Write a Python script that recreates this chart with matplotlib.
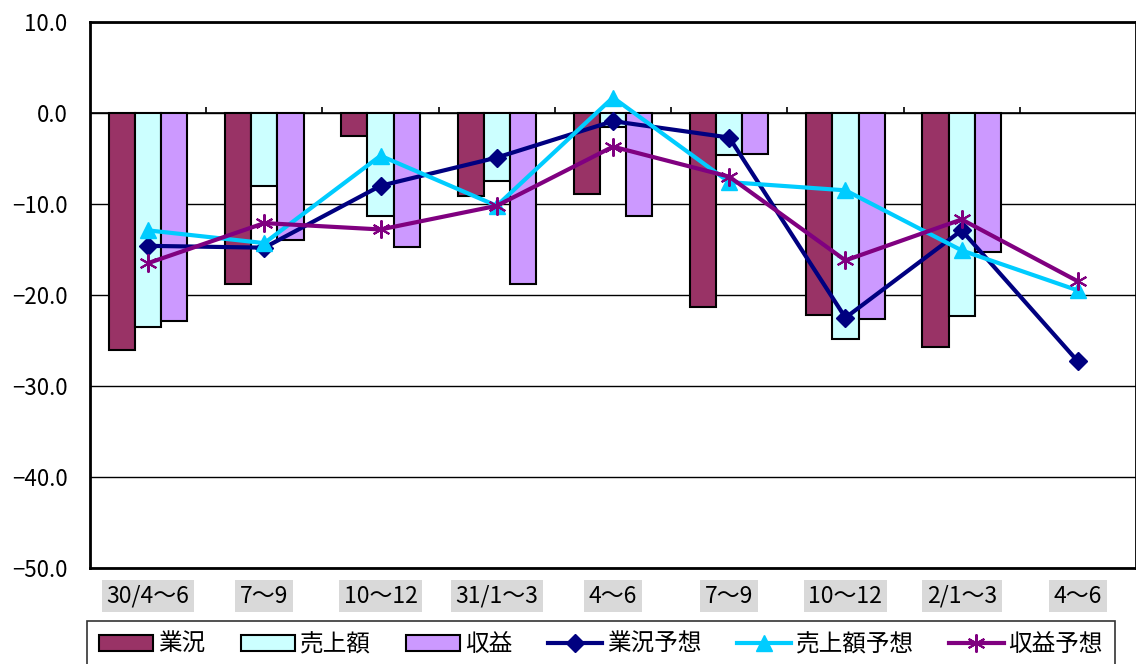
import numpy as np
import matplotlib.pyplot as plt

plt.rcParams['font.family'] = ['Noto Sans CJK JP', 'DejaVu Sans']

# data
categories = ['30/4～6', '7～9', '10～12', '31/1～3', '4～6', '7～9', '10～12', '2/1～3', '4～6']
gyokyo = [-26.0, -18.8, -2.5, -9.1, -8.9, -21.3, -22.2, -25.7]
uriage = [-23.5, -8.0, -11.3, -7.5, -1.5, -4.6, -24.8, -22.3]
shueki = [-22.9, -14.0, -14.7, -18.8, -11.3, -4.5, -22.6, -15.3]
gyokyo_yoso = [-14.6, -14.8, -8.0, -4.9, -0.9, -2.7, -22.5, -12.9, -27.3]
uriage_yoso = [-12.9, -14.3, -4.7, -10.2, 1.7, -7.6, -8.5, -15.1, -19.5]
shueki_yoso = [-16.5, -12.1, -12.8, -10.2, -3.7, -7.0, -16.2, -11.7, -18.5]

fig = plt.figure(figsize=(11.36, 6.64), dpi=100)
ax = fig.add_axes([0.0792, 0.1446, 0.9208, 0.8223])

x = np.arange(len(categories))
xb = np.arange(len(gyokyo))
w = 0.225

b1 = ax.bar(xb - w, gyokyo, w, color='#993366', edgecolor='black', linewidth=1.5, label='業況', zorder=2)
b2 = ax.bar(xb, uriage, w, color='#CCFFFF', edgecolor='black', linewidth=1.5, label='売上額', zorder=2)
b3 = ax.bar(xb + w, shueki, w, color='#CC99FF', edgecolor='black', linewidth=1.5, label='収益', zorder=2)

l1, = ax.plot(x, gyokyo_yoso, color='#000080', lw=3, marker='D', ms=9, label='業況予想', zorder=4)
l2, = ax.plot(x, uriage_yoso, color='#00CCFF', lw=3, marker='^', ms=12, label='売上額予想', zorder=4)
l3, = ax.plot(x, shueki_yoso, color='#800080', lw=3, marker=(6, 2, 0), ms=13, mew=1.5,
              label='収益予想', zorder=4)

ax.set_xlim(-0.5, len(categories) - 0.5)
ax.set_ylim(-50, 10)
ax.set_yticks(np.arange(-50, 11, 10))
ax.set_yticklabels(['−%.1f' % abs(v) if v < 0 else '%.1f' % v for v in np.arange(-50, 11, 10)])
ax.yaxis.grid(True, color='black', lw=1)
ax.set_axisbelow(True)
ax.axhline(0, color='black', lw=1.2, zorder=1)
# category boundary ticks on the zero line
ax.vlines(x[:-1] + 0.5, 0, 0.7, color='black', lw=1.2, zorder=1)

ax.set_xticks(x)
ax.set_xticklabels(categories)
ax.tick_params(axis='x', length=0, pad=12, labelsize=16.5)
ax.tick_params(axis='y', length=0, pad=16, labelsize=16)
for lab in ax.get_xticklabels():
    lab.set_bbox(dict(facecolor='#d9d9d9', edgecolor='none', pad=3.5))

for s in ax.spines.values():
    s.set_linewidth(2)
    s.set_color('black')

handles = [b1, b2, b3, l1, l2, l3]
leg = fig.legend(handles, [h.get_label() for h in handles], loc='upper center',
                 bbox_to_anchor=(0.529, 0.082), ncol=6, fontsize=17,
                 frameon=True, fancybox=False, edgecolor='black', handlelength=2.3,
                 handletextpad=0.2, columnspacing=1.5, borderpad=0.5)
leg.get_frame().set_linewidth(1.2)

fig.savefig('out.png', dpi=100)
